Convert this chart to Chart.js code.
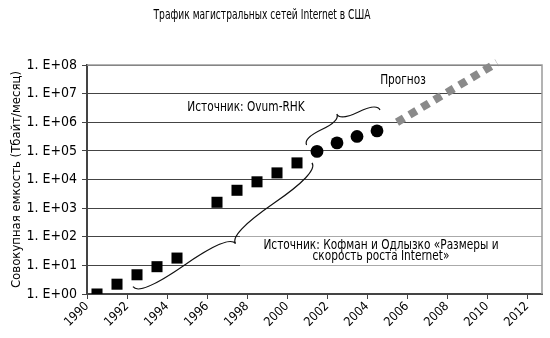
<!DOCTYPE html>
<html>
<head>
<meta charset="utf-8">
<script src="https://cdn.jsdelivr.net/npm/chart.js"></script>
<style>
  html, body { margin: 0; padding: 0; background: #fff; }
  #wrap { width: 550px; height: 338px; }
</style>
</head>
<body>
<div id="wrap"><canvas id="trafficChart"></canvas></div>
<script>
// Coffman & Odlyzko estimates, TB/month
const coffmanYears = [1990, 1991, 1992, 1993, 1994, 1996, 1997, 1998, 1999, 2000];
const coffmanTraffic = [1.0, 2.2, 4.7, 9, 18, 1600, 4200, 8300, 17000, 38000];

// Ovum-RHK estimates
const ovumYears = [2001, 2002, 2003, 2004];
const ovumTraffic = [96000, 190000, 320000, 500000];

// forecast trend
const forecastYears = [2005, 2010];
const forecastTraffic = [1.0e6, 1.2e8];

const xTickYears = [1990, 1992, 1994, 1996, 1998, 2000, 2002, 2004, 2006, 2008, 2010, 2012];
const yTickValues = [1, 10, 100, 1e3, 1e4, 1e5, 1e6, 1e7, 1e8];
const yTickLabels = ['1. E+00', '1. E+01', '1. E+02', '1. E+03', '1. E+04', '1. E+05', '1. E+06', '1. E+07', '1. E+08'];

const FONT = "'Liberation Sans Narrow', 'DejaVu Sans Condensed', sans-serif";

// points sit in the middle of their year
const toPoints = (years, vals) => years.map((yr, i) => ({ x: yr + 0.5, y: vals[i] }));

// curly brace between two pixel points, w = depth of the tip
function drawBrace(ctx, x1, y1, x2, y2, w, q) {
  let dx = x1 - x2, dy = y1 - y2;
  const len = Math.hypot(dx, dy);
  dx /= len; dy /= len;
  const qx1 = x1 + q * w * dy, qy1 = y1 - q * w * dx;
  const qx2 = (x1 - .25 * len * dx) + (1 - q) * w * dy, qy2 = (y1 - .25 * len * dy) - (1 - q) * w * dx;
  const tx = (x1 - .5 * len * dx) + w * dy, ty = (y1 - .5 * len * dy) - w * dx;
  const qx3 = x2 + q * w * dy, qy3 = y2 - q * w * dx;
  const qx4 = (x1 - .75 * len * dx) + (1 - q) * w * dy, qy4 = (y1 - .75 * len * dy) - (1 - q) * w * dx;
  ctx.beginPath();
  ctx.moveTo(x1, y1);
  ctx.quadraticCurveTo(qx1, qy1, qx2, qy2);
  ctx.quadraticCurveTo(2 * qx2 - qx1, 2 * qy2 - qy1, tx, ty);
  ctx.moveTo(x2, y2);
  ctx.quadraticCurveTo(qx3, qy3, qx4, qy4);
  ctx.quadraticCurveTo(2 * qx4 - qx3, 2 * qy4 - qy3, tx, ty);
  ctx.stroke();
}

// narrow-looking text: squeeze horizontally around the anchor
function narrowText(ctx, text, px, py, squeeze) {
  ctx.save();
  ctx.translate(px, py);
  ctx.scale(squeeze, 1);
  ctx.fillText(text, 0, 0);
  ctx.restore();
}

const braces = [
  { from: [1992.3, 1.8], to: [2001.25, 38000], depth: 23 },
  { from: [2000.98, 1.6e5], to: [2004.65, 2.7e6], depth: -15 }
];

const notes = [
  { text: 'Источник: Ovum-RHK', x: 1997.95, y: 3.4e6 },
  { text: 'Прогноз', x: 2005.8, y: 3.0e7 },
  { text: 'Источник: Кофман и Одлызко «Размеры и', x: 2004.7, y: 52 },
  { text: 'скорость роста Internet»', x: 2004.7, y: 20 }
];

const extras = {
  id: 'extras',
  beforeDatasetsDraw(chart) {
    const { ctx, chartArea: a, scales: { x, y } } = chart;
    ctx.save();
    // light box under the source note
    const bx = x.getPixelForValue(1997.65);
    const by1 = y.getPixelForValue(108), by2 = y.getPixelForValue(9.2);
    ctx.fillStyle = 'rgba(255,255,255,0.55)';
    ctx.fillRect(bx, by1, a.right - bx, by2 - by1);
    // top and right frame
    ctx.strokeStyle = '#9a9a9a';
    ctx.lineWidth = 1.5;
    ctx.beginPath();
    ctx.moveTo(a.left, a.top);
    ctx.lineTo(a.right, a.top);
    ctx.lineTo(a.right, a.bottom);
    ctx.stroke();
    ctx.restore();
  },
  afterDatasetsDraw(chart) {
    const { ctx, scales: { x, y } } = chart;
    ctx.save();
    ctx.strokeStyle = '#111';
    ctx.lineWidth = 1.2;
    braces.forEach(b => {
      drawBrace(ctx,
        x.getPixelForValue(b.from[0]), y.getPixelForValue(b.from[1]),
        x.getPixelForValue(b.to[0]), y.getPixelForValue(b.to[1]),
        b.depth, 0.5);
    });
    ctx.fillStyle = '#000';
    ctx.font = '14px ' + FONT;
    ctx.textAlign = 'center';
    ctx.textBaseline = 'middle';
    notes.forEach(n => narrowText(ctx, n.text, x.getPixelForValue(n.x), y.getPixelForValue(n.y), 0.84));
    ctx.font = '14.5px ' + FONT;
    narrowText(ctx, 'Трафик магистральных сетей Internet в США', 262, 15, 0.7);
    ctx.restore();
  }
};

new Chart('trafficChart', {
  type: 'scatter',
  data: {
    datasets: [{
      data: toPoints(coffmanYears, coffmanTraffic),
      pointStyle: 'rect',
      pointRadius: 7.8,
      pointHoverRadius: 7.8,
      backgroundColor: '#000',
      borderColor: '#000',
      borderWidth: 0
    }, {
      data: toPoints(ovumYears, ovumTraffic),
      pointStyle: 'circle',
      pointRadius: 6.4,
      pointHoverRadius: 6.4,
      backgroundColor: '#000',
      borderColor: '#000',
      borderWidth: 0
    }, {
      data: toPoints(forecastYears, forecastTraffic),
      showLine: true,
      pointRadius: 0,
      borderColor: '#8a8a8a',
      borderWidth: 8,
      borderDash: [8, 6.5],
      borderCapStyle: 'butt',
      clip: false
    }]
  },
  options: {
    responsive: true,
    maintainAspectRatio: false,
    animation: false,
    layout: { padding: { top: 65, right: 8, left: 0, bottom: 0 } },
    plugins: { legend: { display: false }, tooltip: { enabled: false } },
    scales: {
      x: {
        type: 'linear',
        min: 1990,
        max: 2012.75,
        afterBuildTicks: s => { s.ticks = xTickYears.map(v => ({ value: v })); },
        afterFit: s => { s.height = 44; },
        ticks: {
          minRotation: 45, maxRotation: 45,
          color: '#000',
          font: { family: FONT, size: 12.5 },
          padding: 0,
          callback: v => String(v)
        },
        grid: { drawOnChartArea: false, drawTicks: true, tickLength: 5, color: '#444' },
        border: { color: '#444', width: 2 }
      },
      y: {
        type: 'logarithmic',
        min: 1,
        max: 1e8,
        afterBuildTicks: s => { s.ticks = yTickValues.map(v => ({ value: v })); },
        afterFit: s => { s.width = 87; },
        ticks: {
          color: '#000',
          font: { family: FONT, size: 14 },
          padding: 5,
          callback: (v, i) => yTickLabels[i]
        },
        grid: { color: '#444', lineWidth: 1, tickLength: 5 },
        border: { color: '#444', width: 2 },
        title: {
          display: true,
          text: 'Совокупная емкость (Тбайт/месяц)',
          color: '#000',
          font: { family: FONT, size: 13 },
          padding: { top: 9, bottom: 0 }
        }
      }
    }
  },
  plugins: [extras]
});
</script>
</body>
</html>
